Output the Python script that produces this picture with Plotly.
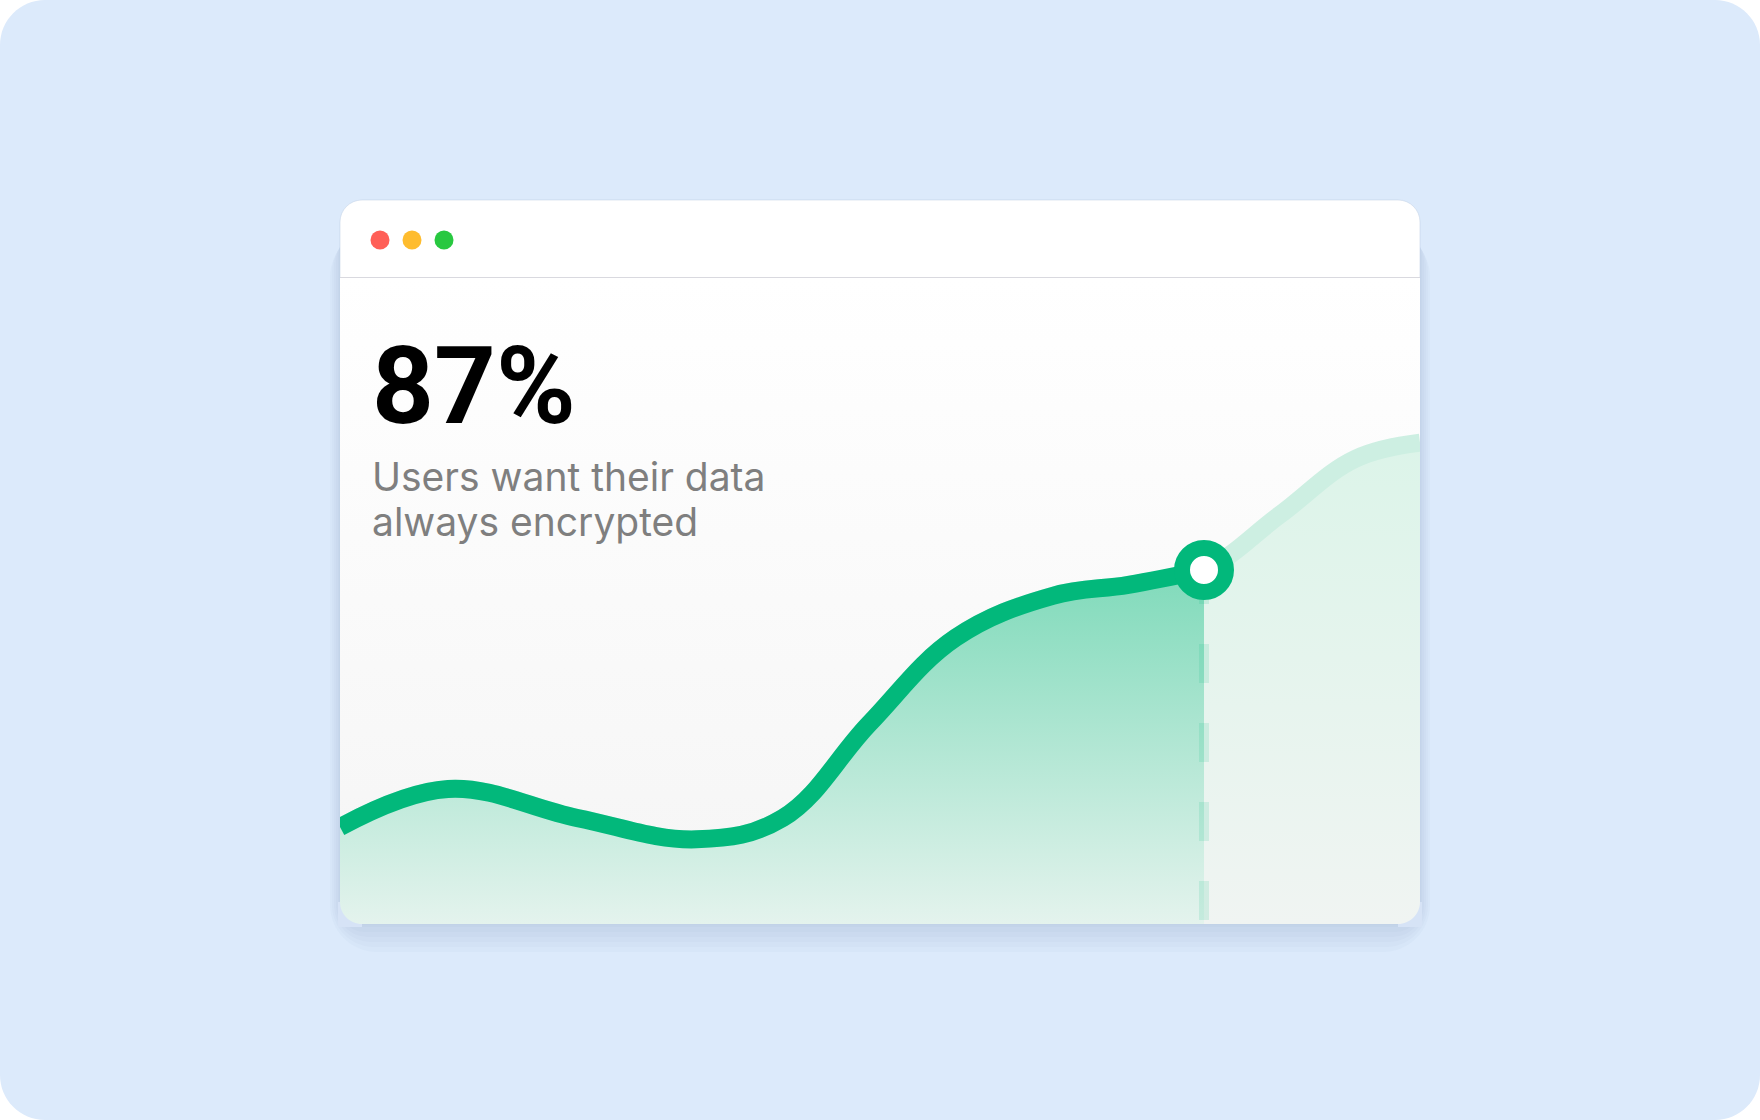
import plotly.graph_objects as go

W, H = 1760, 1120

# curve (x: position along the card, y: level)
x_vals = [0, 10, 22, 33, 41, 49, 57, 66, 73, 80, 87, 94, 100]
y_vals = [15.0, 20.9, 16.4, 13.1, 16.4, 31.0, 44.3, 50.8, 52.5, 54.8, 63.3, 72.0, 74.5]
highlight_idx = 9  # point with the ring marker

headline = "87%"
sub_lines = ["Users want their data", "always encrypted"]

GREEN = "#02B87B"
BG_BLUE = "#DCEAFB"

# card geometry in page pixels
CX0, CY0, CX1, CY1 = 340, 200, 1420, 924
HEADER_Y = 278
CARD_R = 22


def pp(px, py):
    return px / W, 1 - py / H


def rr_path(x0, y0, x1, y1, r):
    k = 0.5523 * r
    pts = [
        ("M", [(x0 + r, y0)]),
        ("L", [(x1 - r, y0)]),
        ("C", [(x1 - r + k, y0), (x1, y0 + r - k), (x1, y0 + r)]),
        ("L", [(x1, y1 - r)]),
        ("C", [(x1, y1 - r + k), (x1 - r + k, y1), (x1 - r, y1)]),
        ("L", [(x0 + r, y1)]),
        ("C", [(x0 + r - k, y1), (x0, y1 - r + k), (x0, y1 - r)]),
        ("L", [(x0, y0 + r)]),
        ("C", [(x0, y0 + r - k), (x0 + r - k, y0), (x0 + r, y0)]),
    ]
    s = ""
    for cmd, coords in pts:
        s += cmd + " ".join("%.5f,%.5f" % pp(a, b) for a, b in coords) + " "
    return s + "Z"


def corner_mask(cx, cy, r, side):
    # fills the area outside a rounded bottom corner with the page colour
    k = 0.5523 * r
    d = 1 if side == "left" else -1
    p = [(cx - 2 * d, cy - r), (cx - 2 * d, cy + 3), (cx + d * r, cy + 3), (cx + d * r, cy)]
    arc = [(cx + d * (r - k), cy), (cx, cy - r + k), (cx, cy - r)]
    s = "M%.5f,%.5f " % pp(*p[0])
    for q in p[1:]:
        s += "L%.5f,%.5f " % pp(*q)
    s += "C" + " ".join("%.5f,%.5f" % pp(a, b) for a, b in arc) + " Z"
    return s


fig = go.Figure()

# soft panel gradient behind the chart
fig.add_trace(go.Scatter(
    x=[0, 100, 100, 0], y=[0, 0, 100, 100], mode="none", fill="toself",
    fillgradient=dict(type="vertical", colorscale=[[0, "#F5F5F5"], [1, "#FFFFFF"]], start=0, stop=100),
    hoverinfo="skip", showlegend=False,
))

# full curve, faded (future part)
fig.add_trace(go.Scatter(
    x=x_vals, y=y_vals, mode="lines", line=dict(color="#CDEFE2", width=18, shape="spline", smoothing=1.1),
    fill="tozeroy",
    fillgradient=dict(type="vertical", colorscale=[[0, "#F0F4F2"], [1, "#DCF4E9"]], start=0, stop=75),
    hoverinfo="skip", showlegend=False,
))

# solid curve up to the highlighted point
fig.add_trace(go.Scatter(
    x=x_vals[:highlight_idx + 1], y=y_vals[:highlight_idx + 1], mode="lines",
    line=dict(color=GREEN, width=18, shape="spline", smoothing=1.1),
    fill="tozeroy",
    fillgradient=dict(type="vertical", colorscale=[[0, "#E4F3ED"], [1, "#7FDABA"]], start=0, stop=55),
    hoverinfo="skip", showlegend=False,
))

# dashed drop line under the point
fig.add_trace(go.Scatter(
    x=[x_vals[highlight_idx]] * 2, y=[0, y_vals[highlight_idx]], mode="lines",
    line=dict(color="rgba(2,184,123,0.13)", width=10, dash="0px,4px,39px,36px"),
    hoverinfo="skip", showlegend=False,
))

# ring marker
fig.add_trace(go.Scatter(
    x=[x_vals[highlight_idx]], y=[y_vals[highlight_idx]], mode="markers",
    marker=dict(size=44, color="white", line=dict(color=GREEN, width=16)),
    hoverinfo="skip", showlegend=False, cliponaxis=False,
))

shapes = []
# page background
shapes.append(dict(type="path", xref="paper", yref="paper", path=rr_path(0, 0, W, H, 45),
                   fillcolor=BG_BLUE, line=dict(width=0), layer="below"))
# card shadow, mostly under the bottom edge
for i in range(6):
    e = i * 5
    shapes.append(dict(type="path", xref="paper", yref="paper",
                       path=rr_path(CX0 - e * 0.4, CY0 + 30, CX1 + e * 0.4, CY1 + 3 + e, CARD_R + e),
                       fillcolor="rgba(80,105,160,0.028)", line=dict(width=0), layer="below"))
# card
shapes.append(dict(type="path", xref="paper", yref="paper", path=rr_path(CX0, CY0, CX1, CY1, CARD_R),
                   fillcolor="white", line=dict(color="rgba(190,205,228,0.5)", width=1), layer="below"))
# header separator
shapes.append(dict(type="line", xref="paper", yref="paper",
                   x0=CX0 / W, x1=CX1 / W, y0=1 - HEADER_Y / H, y1=1 - HEADER_Y / H,
                   line=dict(color="#D9D9DF", width=2), layer="below"))
# window dots
for cx, col in [(380, "#FF5F57"), (412, "#FEBC2E"), (444, "#28C840")]:
    r = 9.5
    shapes.append(dict(type="circle", xref="paper", yref="paper",
                       x0=(cx - r) / W, x1=(cx + r) / W, y0=1 - (240 + r) / H, y1=1 - (240 - r) / H,
                       fillcolor=col, line=dict(width=0), layer="below"))
# rounded bottom corners of the card over the fills
for cx, side in [(CX0, "left"), (CX1, "right")]:
    shapes.append(dict(type="path", xref="paper", yref="paper", path=corner_mask(cx, CY1, CARD_R, side),
                       fillcolor="#D6E3F6", line=dict(width=0), layer="above"))

annotations = [
    dict(text=headline, xref="paper", yref="paper", x=370 / W, y=1 - 386 / H, xanchor="left", yanchor="middle",
         showarrow=False, font=dict(family="Roboto", size=108, color="#000000", weight=700)),
    dict(text=sub_lines[0], xref="paper", yref="paper", x=370 / W, y=1 - 476 / H, xanchor="left", yanchor="middle",
         showarrow=False, font=dict(family="Inter", size=39, color="#7F7F7F")),
    dict(text=sub_lines[1], xref="paper", yref="paper", x=370 / W, y=1 - 521 / H, xanchor="left", yanchor="middle",
         showarrow=False, font=dict(family="Inter", size=39, color="#7F7F7F")),
]

fig.update_layout(
    width=W, height=H, margin=dict(l=0, r=0, t=0, b=0),
    paper_bgcolor="white", plot_bgcolor="rgba(0,0,0,0)",
    xaxis=dict(domain=[CX0 / W, CX1 / W], range=[0, 100], visible=False, fixedrange=True),
    yaxis=dict(domain=[1 - CY1 / H, 1 - HEADER_Y / H], range=[0, 100], visible=False, fixedrange=True),
    shapes=shapes, annotations=annotations, showlegend=False,
)

fig.write_html("out.html", config={"displayModeBar": False},
               post_script="document.body.style.margin='0';")
